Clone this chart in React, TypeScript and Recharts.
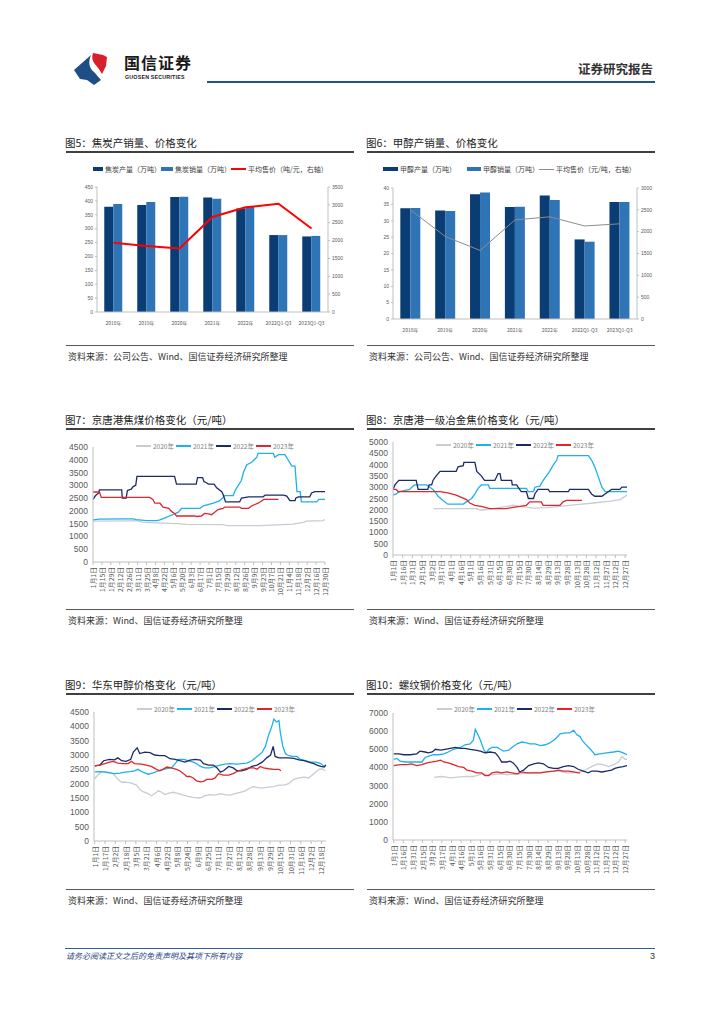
import React from 'react';
import { ComposedChart, LineChart, Bar, Line, XAxis, YAxis } from 'recharts';

type Pt = [number, number];

// 图5 / 图6 年度数据
const periods = ['2018年', '2019年', '2020年', '2021年', '2022年', '2022Q1-Q3', '2023Q1-Q3'];
const cokeOutput = [379, 385, 414, 412, 373, 277, 272];
const cokeSales = [389, 396, 415, 408, 378, 277, 274];
const cokePrice = [1940, 1850, 1780, 2660, 2930, 3030, 2340];
const methOutput = [33.8, 33.1, 38.1, 34.2, 37.7, 24.3, 35.7];
const methSales = [33.9, 33.0, 38.6, 34.3, 36.3, 23.6, 35.7];
const methPrice = [2500, 1890, 1570, 2270, 2340, 2130, 2180];

const cokeLeftTicks = [0, 50, 100, 150, 200, 250, 300, 350, 400, 450];
const cokeRightTicks = [0, 500, 1000, 1500, 2000, 2500, 3000, 3500];
const methLeftTicks = [0, 5, 10, 15, 20, 25, 30, 35, 40];
const methRightTicks = [0, 500, 1000, 1500, 2000, 2500, 3000];

// 日期刻度
const labels14 = ['1月1日', '1月15日', '1月29日', '2月12日', '2月26日', '3月11日', '3月25日', '4月8日', '4月22日', '5月6日', '5月20日', '6月3日', '6月17日', '7月1日', '7月15日', '7月29日', '8月12日', '8月26日', '9月9日', '9月23日', '10月7日', '10月21日', '11月4日', '11月18日', '12月2日', '12月16日', '12月30日'];
const labels15 = ['1月1日', '1月16日', '1月31日', '2月15日', '3月2日', '3月17日', '4月1日', '4月16日', '5月1日', '5月16日', '5月31日', '6月15日', '6月30日', '7月15日', '7月30日', '8月14日', '8月29日', '9月13日', '9月28日', '10月13日', '10月28日', '11月12日', '11月27日', '12月12日', '12月27日'];
const labels16 = ['1月1日', '1月17日', '2月2日', '2月18日', '3月5日', '3月21日', '4月6日', '4月22日', '5月8日', '5月24日', '6月9日', '6月25日', '7月11日', '7月27日', '8月12日', '8月28日', '9月13日', '9月29日', '10月15日', '10月31日', '11月16日', '12月2日', '12月18日'];

const ticks4500 = [0, 500, 1000, 1500, 2000, 2500, 3000, 3500, 4000, 4500];
const ticks5000 = [0, 500, 1000, 1500, 2000, 2500, 3000, 3500, 4000, 4500, 5000];
const ticks7000 = [0, 1000, 2000, 3000, 4000, 5000, 6000, 7000];

const yearNames = ['2020年', '2021年', '2022年', '2023年'];
const yearColors = ['#c6cdd6', '#1eb1ec', '#1c2a6a', '#e2252b'];

// 图7 京唐港焦煤 [日序, 价格]
const coal2020: Pt[] = [[0, 1600], [52, 1610], [68, 1620], [79, 1550], [131, 1500], [147, 1470], [204, 1460], [210, 1420], [262, 1420], [288, 1450], [314, 1480], [330, 1550], [335, 1600], [361, 1620], [364, 1660]];
const coal2021: Pt[] = [[0, 1645], [10, 1680], [52, 1690], [63, 1690], [68, 1660], [76, 1640], [84, 1620], [100, 1620], [105, 1650], [110, 1700], [115, 1750], [120, 1800], [128, 1880], [134, 1950], [139, 2100], [168, 2100], [173, 2200], [189, 2300], [199, 2400], [207, 2600], [220, 2600], [223, 2800], [228, 3000], [233, 3200], [236, 3500], [241, 3800], [249, 3900], [257, 4100], [259, 4250], [283, 4250], [285, 4100], [291, 4200], [301, 4200], [306, 4000], [312, 3750], [317, 3750], [320, 2750], [325, 2750], [327, 2350], [351, 2350], [354, 2450], [364, 2450]];
const coal2022: Pt[] = [[0, 2450], [4, 2600], [9, 2700], [10, 2820], [45, 2820], [46, 2500], [52, 2500], [54, 2800], [60, 2850], [63, 2950], [67, 3000], [69, 3350], [128, 3350], [131, 3050], [162, 3050], [164, 3300], [172, 3300], [174, 3150], [178, 3100], [181, 3050], [190, 3050], [194, 2900], [202, 2750], [204, 2650], [208, 2350], [230, 2350], [233, 2500], [244, 2550], [267, 2550], [270, 2620], [299, 2620], [304, 2580], [309, 2400], [317, 2400], [318, 2500], [322, 2550], [340, 2550], [343, 2700], [348, 2750], [364, 2750]];
const coal2023: Pt[] = [[0, 2740], [10, 2740], [13, 2530], [89, 2530], [94, 2450], [97, 2300], [105, 2300], [110, 2150], [119, 2100], [123, 1980], [128, 1900], [131, 1800], [160, 1800], [162, 1780], [170, 1800], [175, 1900], [181, 1880], [186, 1850], [191, 1950], [196, 2050], [204, 2100], [207, 2150], [230, 2150], [233, 2100], [244, 2100], [249, 2200], [254, 2250], [259, 2300], [265, 2400], [268, 2450], [291, 2450]];

// 图8 京唐港一级冶金焦
const coke2020: Pt[] = [[63, 2050], [129, 2050], [137, 1980], [155, 2050], [176, 2150], [186, 2200], [197, 2150], [218, 2070], [238, 2100], [259, 2150], [285, 2230], [311, 2300], [337, 2380], [352, 2450], [363, 2650]];
const coke2021: Pt[] = [[0, 2650], [5, 2700], [10, 2800], [26, 2900], [31, 3050], [34, 3100], [52, 3100], [57, 3000], [62, 2900], [65, 2800], [70, 2600], [78, 2400], [85, 2250], [109, 2250], [114, 2350], [122, 2500], [127, 2700], [132, 2950], [137, 3100], [148, 3100], [150, 2950], [207, 2950], [210, 2800], [218, 2800], [220, 3000], [228, 3050], [233, 3300], [243, 3700], [249, 4000], [254, 4200], [256, 4400], [303, 4400], [308, 4200], [313, 3900], [318, 3500], [324, 3000], [329, 2800], [363, 2800]];
const coke2022: Pt[] = [[0, 2900], [3, 3100], [9, 3300], [36, 3300], [39, 2900], [54, 2900], [56, 3100], [60, 3100], [62, 3300], [67, 3500], [73, 3700], [98, 3700], [101, 3900], [109, 3950], [110, 4100], [127, 4100], [130, 3700], [137, 3500], [142, 3300], [158, 3300], [163, 3600], [166, 3600], [168, 3300], [184, 3300], [185, 3100], [192, 3100], [194, 3000], [199, 2800], [207, 2800], [210, 2500], [218, 2500], [220, 2700], [225, 2900], [241, 2900], [243, 2800], [272, 2800], [274, 2900], [303, 2900], [308, 2700], [313, 2600], [324, 2600], [329, 2700], [334, 2800], [339, 2900], [352, 2900], [355, 3000], [363, 3000]];
const coke2023: Pt[] = [[0, 2900], [5, 2900], [8, 2800], [73, 2800], [85, 2750], [98, 2650], [106, 2550], [114, 2450], [119, 2300], [127, 2200], [137, 2150], [150, 2050], [176, 2050], [184, 2100], [197, 2150], [207, 2200], [212, 2350], [230, 2350], [233, 2200], [259, 2200], [264, 2350], [269, 2420], [293, 2420]];

// 图9 华东甲醇
const meth2020: Pt[] = [[0, 2170], [5, 2300], [10, 2400], [18, 2420], [26, 2380], [31, 2300], [36, 2150], [42, 2050], [49, 2050], [57, 2020], [65, 1950], [70, 1800], [75, 1720], [83, 1650], [88, 1580], [93, 1650], [99, 1750], [104, 1700], [109, 1620], [114, 1660], [122, 1700], [130, 1650], [138, 1600], [145, 1560], [153, 1520], [161, 1500], [166, 1520], [171, 1580], [179, 1620], [187, 1600], [195, 1650], [202, 1620], [210, 1600], [218, 1650], [226, 1700], [234, 1750], [241, 1850], [247, 1900], [254, 1850], [262, 1850], [270, 1880], [278, 1900], [286, 1950], [294, 1950], [301, 2000], [309, 2150], [317, 2200], [325, 2230], [332, 2200], [340, 2350], [348, 2500], [353, 2520], [358, 2450]];
const meth2021: Pt[] = [[0, 2410], [8, 2420], [16, 2400], [23, 2380], [31, 2350], [39, 2370], [47, 2400], [55, 2420], [62, 2450], [67, 2500], [75, 2400], [83, 2330], [91, 2380], [99, 2450], [106, 2500], [114, 2530], [119, 2550], [125, 2700], [130, 2850], [138, 2850], [145, 2800], [153, 2750], [158, 2700], [164, 2600], [171, 2550], [179, 2550], [187, 2600], [195, 2650], [202, 2680], [210, 2700], [221, 2680], [228, 2700], [236, 2720], [244, 2800], [252, 2950], [260, 3100], [265, 3300], [270, 3700], [275, 4000], [278, 4250], [282, 4150], [286, 4200], [288, 3800], [292, 3300], [296, 3050], [299, 3000], [306, 2950], [314, 2950], [319, 2850], [327, 2800], [335, 2750], [343, 2750], [351, 2700], [356, 2600], [359, 2650]];
const meth2022: Pt[] = [[0, 2620], [8, 2650], [14, 2800], [23, 2850], [31, 2830], [36, 2900], [42, 2800], [49, 2780], [56, 2850], [60, 3100], [66, 3250], [70, 3050], [78, 3100], [86, 3080], [93, 3000], [101, 2980], [109, 2980], [117, 2870], [125, 2850], [132, 2800], [140, 2750], [148, 2820], [156, 2850], [164, 2820], [169, 2700], [177, 2650], [184, 2650], [190, 2550], [195, 2400], [200, 2450], [208, 2600], [215, 2550], [221, 2450], [228, 2450], [236, 2500], [244, 2600], [252, 2650], [260, 2750], [267, 2900], [273, 3000], [277, 3300], [280, 2950], [286, 2900], [294, 2900], [301, 2900], [309, 2880], [317, 2830], [325, 2800], [332, 2750], [340, 2700], [345, 2650], [351, 2600], [356, 2580], [359, 2650]];
const meth2023: Pt[] = [[0, 2620], [8, 2650], [16, 2700], [23, 2750], [29, 2780], [36, 2720], [44, 2700], [52, 2700], [57, 2780], [62, 2700], [73, 2680], [80, 2650], [88, 2600], [96, 2500], [101, 2450], [106, 2500], [112, 2580], [119, 2550], [127, 2500], [132, 2450], [138, 2350], [143, 2250], [148, 2250], [153, 2200], [158, 2100], [164, 2060], [169, 2080], [174, 2150], [182, 2150], [187, 2200], [192, 2350], [200, 2300], [208, 2300], [215, 2350], [223, 2450], [231, 2500], [239, 2550], [247, 2550], [252, 2500], [257, 2600], [262, 2550], [270, 2520], [278, 2500], [286, 2500], [289, 2450]];

// 图10 螺纹钢
const rebar2020: Pt[] = [[63, 3450], [73, 3500], [80, 3480], [88, 3420], [96, 3450], [104, 3480], [114, 3500], [124, 3500], [129, 3550], [137, 3650], [145, 3600], [155, 3600], [166, 3650], [176, 3600], [186, 3620], [197, 3650], [207, 3700], [218, 3720], [228, 3720], [238, 3750], [249, 3800], [259, 3780], [269, 3700], [280, 3700], [290, 3750], [300, 3900], [311, 4100], [318, 4200], [326, 4150], [334, 4050], [342, 4150], [350, 4300], [355, 4600], [360, 4450], [363, 4450]];
const rebar2021: Pt[] = [[0, 4450], [5, 4500], [10, 4350], [18, 4300], [26, 4300], [36, 4300], [44, 4300], [49, 4550], [57, 4650], [62, 4700], [70, 4700], [78, 4750], [85, 4850], [93, 5000], [104, 5100], [111, 5250], [119, 5300], [124, 5500], [127, 6100], [130, 5900], [135, 5500], [140, 5000], [144, 4800], [148, 5000], [153, 5100], [161, 5100], [166, 5000], [171, 4900], [179, 4950], [184, 5100], [192, 5300], [199, 5400], [207, 5350], [212, 5300], [220, 5300], [228, 5200], [236, 5250], [243, 5350], [251, 5550], [259, 5850], [267, 5900], [274, 5900], [280, 6050], [285, 5800], [290, 5700], [293, 5500], [298, 5300], [306, 5000], [311, 4800], [313, 4700], [321, 4750], [331, 4800], [342, 4850], [350, 4900], [357, 4800], [363, 4700]];
const rebar2022: Pt[] = [[0, 4750], [8, 4750], [16, 4700], [26, 4700], [36, 4750], [41, 4900], [49, 4850], [54, 4800], [60, 4850], [65, 5000], [73, 4950], [80, 5000], [88, 5050], [96, 5100], [104, 5050], [111, 5050], [119, 5000], [127, 4950], [135, 4900], [142, 4800], [150, 4850], [158, 4800], [163, 4600], [168, 4300], [176, 4300], [181, 4350], [186, 4250], [192, 4000], [196, 3750], [202, 3850], [210, 4100], [218, 4200], [225, 4250], [233, 4200], [241, 4000], [249, 3950], [256, 3950], [264, 4050], [272, 4100], [280, 4050], [287, 3900], [295, 3800], [303, 3700], [308, 3800], [316, 3800], [324, 3750], [331, 3800], [339, 3850], [344, 3950], [350, 4000], [357, 4050], [363, 4100]];
const rebar2023: Pt[] = [[0, 4100], [10, 4150], [21, 4150], [28, 4200], [36, 4100], [44, 4150], [52, 4250], [60, 4300], [67, 4350], [73, 4400], [78, 4300], [85, 4250], [93, 4150], [101, 4050], [109, 4000], [114, 3850], [122, 3800], [129, 3700], [137, 3700], [142, 3550], [148, 3550], [153, 3700], [161, 3750], [168, 3700], [176, 3750], [184, 3700], [192, 3650], [199, 3750], [207, 3700], [218, 3700], [228, 3700], [238, 3750], [249, 3800], [256, 3850], [264, 3800], [272, 3800], [280, 3750], [287, 3700], [290, 3700]];

const cokeTable = periods.map((p, i) => ({ p, a: cokeOutput[i], b: cokeSales[i], c: cokePrice[i] }));
const methTable = periods.map((p, i) => ({ p, a: methOutput[i], b: methSales[i], c: methPrice[i] }));

const DARK = '#0a3d73';
const LIGHT = '#2f75b6';
const AXIS = '#bfbfbf';
const NUM_FONT = '"Liberation Sans", Arial, sans-serif';

const abs = (left: number, top: number): React.CSSProperties => ({ position: 'absolute', left, top });

function DateTick({ x, y, text }: { x: number; y: number; text: string }) {
  return (
    <text x={x} y={y} transform={`rotate(-90 ${x} ${y})`} textAnchor="end" dominantBaseline="central" fontSize={6.8} fill="#595959">
      {text}
    </text>
  );
}

function PriceChart(props: {
  left: number; top: number; width: number; height: number; mTop: number; mLeft: number;
  domain: [number, number]; step: number; labels: string[]; yTicks: number[]; series: Pt[][];
}) {
  const { left, top, width, height, mTop, mLeft, domain, step, labels, yTicks, series } = props;
  const xTicks = labels.map((_, i) => i * step);
  return (
    <div style={abs(left, top)}>
      <LineChart width={width} height={height} margin={{ top: mTop, right: 5, left: mLeft, bottom: 0 }}>
        <XAxis
          type="number"
          dataKey="d"
          domain={domain}
          ticks={xTicks}
          interval={0}
          allowDataOverflow
          height={42}
          tickSize={3}
          axisLine={{ stroke: AXIS }}
          tickLine={{ stroke: AXIS }}
          tick={(p: any) => <DateTick x={p.x} y={p.y} text={labels[Math.round(p.payload.value / step)]} />}
        />
        <YAxis
          type="number"
          domain={[0, yTicks[yTicks.length - 1]]}
          ticks={yTicks}
          interval={0}
          width={30}
          tickSize={3}
          tickLine={false}
          axisLine={{ stroke: AXIS }}
          tick={{ fontSize: 8.5, fill: '#595959', fontFamily: NUM_FONT }}
        />
        {series.map((s, i) => (
          <Line
            key={i}
            data={s.map(([d, v]) => ({ d, v }))}
            dataKey="v"
            type="linear"
            stroke={yearColors[i]}
            strokeWidth={1.3}
            dot={false}
            isAnimationActive={false}
          />
        ))}
      </LineChart>
    </div>
  );
}

function YearLegend({ cx, cy }: { cx: number; cy: number }) {
  return (
    <div style={{ position: 'absolute', left: cx - 80, top: cy - 5, width: 160, height: 10, display: 'flex', alignItems: 'center', justifyContent: 'center' }}>
      {yearNames.map((n, i) => (
        <div key={n} style={{ display: 'flex', alignItems: 'center', width: 40 }}>
          <span style={{ display: 'inline-block', width: 15, height: 1.5, background: yearColors[i], marginRight: 2 }} />
          <span style={{ fontSize: 6.5, color: '#7f7f7f', whiteSpace: 'nowrap', lineHeight: '10px' }}>{n}</span>
        </div>
      ))}
    </div>
  );
}

function BarLegend({ left, top, items }: { left: number; top: number; items: { label: string; color: string; line?: boolean; w: number }[] }) {
  return (
    <div style={{ position: 'absolute', left, top, display: 'flex', alignItems: 'center', height: 10 }}>
      {items.map((it) => (
        <div key={it.label} style={{ display: 'flex', alignItems: 'center', width: it.w }}>
          <span style={{ display: 'inline-block', width: 15, height: it.line ? (it.color === '#ff0000' ? 2 : 1) : 4, background: it.color, marginRight: 2 }} />
          <span style={{ fontSize: 7, color: '#404040', whiteSpace: 'nowrap', lineHeight: '10px' }}>{it.label}</span>
        </div>
      ))}
    </div>
  );
}

function Title({ left, top, text }: { left: number; top: number; text: string }) {
  return (
    <>
      <div style={{ ...abs(left, top), fontSize: 10.5, color: '#222', whiteSpace: 'nowrap', lineHeight: '12px' }}>{text}</div>
      <div style={{ ...abs(left + 1, top + 14), width: 288, height: 1.5, background: '#404040' }} />
    </>
  );
}

function Source({ left, top, text }: { left: number; top: number; text: string }) {
  return (
    <>
      <div style={{ ...abs(left + 1, top), width: 288, height: 1, background: '#595959' }} />
      <div style={{ ...abs(left + 3, top + 6), fontSize: 9, color: '#333', whiteSpace: 'nowrap', lineHeight: '11px' }}>{text}</div>
    </>
  );
}

function BarFig(props: {
  left: number; top: number; width: number; height: number; mLeft: number; data: any[];
  lTicks: number[]; rTicks: number[]; lineColor: string; lineWidth: number; gap: string;
}) {
  const { left, top, width, height, mLeft, data, lTicks, rTicks, lineColor, lineWidth, gap } = props;
  const tickStyle = { fontSize: 5, fill: '#595959', fontFamily: NUM_FONT };
  return (
    <div style={abs(left, top)}>
      <ComposedChart width={width} height={height} data={data} margin={{ top: 7, right: 0, left: mLeft, bottom: 0 }} barGap={0} barCategoryGap={gap}>
        <XAxis dataKey="p" interval={0} height={14} tickLine={false} axisLine={{ stroke: AXIS }} tick={{ ...tickStyle, fontFamily: '"Noto Sans CJK SC", sans-serif' }} tickMargin={3} />
        <YAxis yAxisId="l" domain={[0, lTicks[lTicks.length - 1]]} ticks={lTicks} interval={0} width={30} tickSize={2} tickMargin={2} axisLine={{ stroke: AXIS }} tickLine={{ stroke: AXIS }} tick={tickStyle} />
        <YAxis yAxisId="r" orientation="right" domain={[0, rTicks[rTicks.length - 1]]} ticks={rTicks} interval={0} width={20} tickSize={2} tickMargin={2} axisLine={{ stroke: AXIS }} tickLine={{ stroke: AXIS }} tick={tickStyle} />
        <Bar yAxisId="l" dataKey="a" fill={DARK} isAnimationActive={false} />
        <Bar yAxisId="l" dataKey="b" fill={LIGHT} isAnimationActive={false} />
        <Line yAxisId="r" dataKey="c" type="linear" stroke={lineColor} strokeWidth={lineWidth} dot={false} isAnimationActive={false} />
      </ComposedChart>
    </div>
  );
}

export default function App() {
  const src1 = '资料来源：公司公告、Wind、国信证券经济研究所整理';
  const src2 = '资料来源：Wind、国信证券经济研究所整理';
  return (
    <div style={{ position: 'absolute', left: 0, top: 0, width: 724, height: 1024, background: '#fff', fontFamily: '"Noto Sans CJK SC", "Liberation Sans", sans-serif', overflow: 'hidden' }}>
      {/* 页眉 */}
      <svg style={abs(0, 0)} width={130} height={90}>
        <path d="M74,70 L91,55 C88,62 89,68 94,72 C97,75 99,78 101,80 L94,85 L87,80 L80,79 Z" fill="#1f4e86" />
        <path d="M93,53 L103,55 L107,57 L106,66 L102,74 C99,68 95,65 93,61 C92,58 92,56 93,53 Z" fill="#d7202b" />
      </svg>
      <div style={{ ...abs(124, 53), fontSize: 16, fontWeight: 700, color: '#1a1a1a', letterSpacing: 1, lineHeight: '18px' }}>国信证券</div>
      <div style={{ ...abs(125, 74), fontSize: 5.3, fontWeight: 700, color: '#1a1a1a', letterSpacing: 0.2, lineHeight: '7px', fontFamily: NUM_FONT }}>GUOSEN SECURITIES</div>
      <div style={{ ...abs(207, 81), width: 448, height: 2, background: '#1f5596' }} />
      <div style={{ ...abs(578, 61), fontSize: 12.5, fontWeight: 700, color: '#333', lineHeight: '15px' }}>证券研究报告</div>

      {/* 图5 */}
      <Title left={65} top={137} text="图5：焦炭产销量、价格变化" />
      <BarLegend left={93} top={164} items={[
        { label: '焦炭产量（万吨）', color: DARK, w: 68 },
        { label: '焦炭销量（万吨）', color: LIGHT, w: 70 },
        { label: '平均售价（吨/元，右轴）', color: '#ff0000', line: true, w: 100 },
      ]} />
      <BarFig left={65} top={180} width={283} height={146} mLeft={2} data={cokeTable} lTicks={cokeLeftTicks} rTicks={cokeRightTicks} lineColor="#ff0000" lineWidth={2} gap="22%" />
      <Source left={65} top={345} text={src1} />

      {/* 图6 */}
      <Title left={366} top={137} text="图6：甲醇产销量、价格变化" />
      <BarLegend left={383} top={164} items={[
        { label: '甲醇产量（万吨）', color: DARK, w: 84 },
        { label: '甲醇销量（万吨）', color: LIGHT, w: 72 },
        { label: '平均售价（元/吨，右轴）', color: '#8c8c8c', line: true, w: 100 },
      ]} />
      <BarFig left={360} top={181} width={297} height={152} mLeft={3} data={methTable} lTicks={methLeftTicks} rTicks={methRightTicks} lineColor="#8c8c8c" lineWidth={1} gap="21%" />
      <Source left={366} top={345} text={src1} />

      {/* 图7 */}
      <Title left={65} top={414} text="图7：京唐港焦煤价格变化（元/吨）" />
      <PriceChart left={60} top={440} width={270} height={164} mTop={7} mLeft={3} domain={[0, 364]} step={14} labels={labels14} yTicks={ticks4500} series={[coal2020, coal2021, coal2022, coal2023]} />
      <YearLegend cx={216} cy={446} />
      <Source left={65} top={609} text={src2} />

      {/* 图8 */}
      <Title left={366} top={414} text="图8：京唐港一级冶金焦价格变化（元/吨）" />
      <PriceChart left={360} top={435} width={272} height={162} mTop={7} mLeft={3} domain={[0, 363]} step={15} labels={labels15} yTicks={ticks5000} series={[coke2020, coke2021, coke2022, coke2023]} />
      <YearLegend cx={516} cy={445} />
      <Source left={366} top={609} text={src2} />

      {/* 图9 */}
      <Title left={65} top={679} text="图9：华东甲醇价格变化（元/吨）" />
      <PriceChart left={60} top={705} width={271} height={178} mTop={7} mLeft={4} domain={[-1, 359]} step={16} labels={labels16} yTicks={ticks4500} series={[meth2020, meth2021, meth2022, meth2023]} />
      <YearLegend cx={217} cy={709} />
      <Source left={65} top={889} text={src2} />

      {/* 图10 */}
      <Title left={366} top={679} text="图10：螺纹钢价格变化（元/吨）" />
      <PriceChart left={360} top={705} width={272} height={177} mTop={8} mLeft={3} domain={[-1, 363]} step={15} labels={labels15} yTicks={ticks7000} series={[rebar2020, rebar2021, rebar2022, rebar2023]} />
      <YearLegend cx={517} cy={709} />
      <Source left={366} top={889} text={src2} />

      {/* 页脚 */}
      <div style={{ ...abs(65, 948), width: 590, height: 1, background: '#2f5f98' }} />
      <div style={{ ...abs(66, 951), fontSize: 8, fontStyle: 'italic', color: '#1f3f7f', lineHeight: '10px' }}>请务必阅读正文之后的免责声明及其项下所有内容</div>
      <div style={{ ...abs(650, 951), fontSize: 9, color: '#333', lineHeight: '10px', fontFamily: NUM_FONT }}>3</div>
    </div>
  );
}
